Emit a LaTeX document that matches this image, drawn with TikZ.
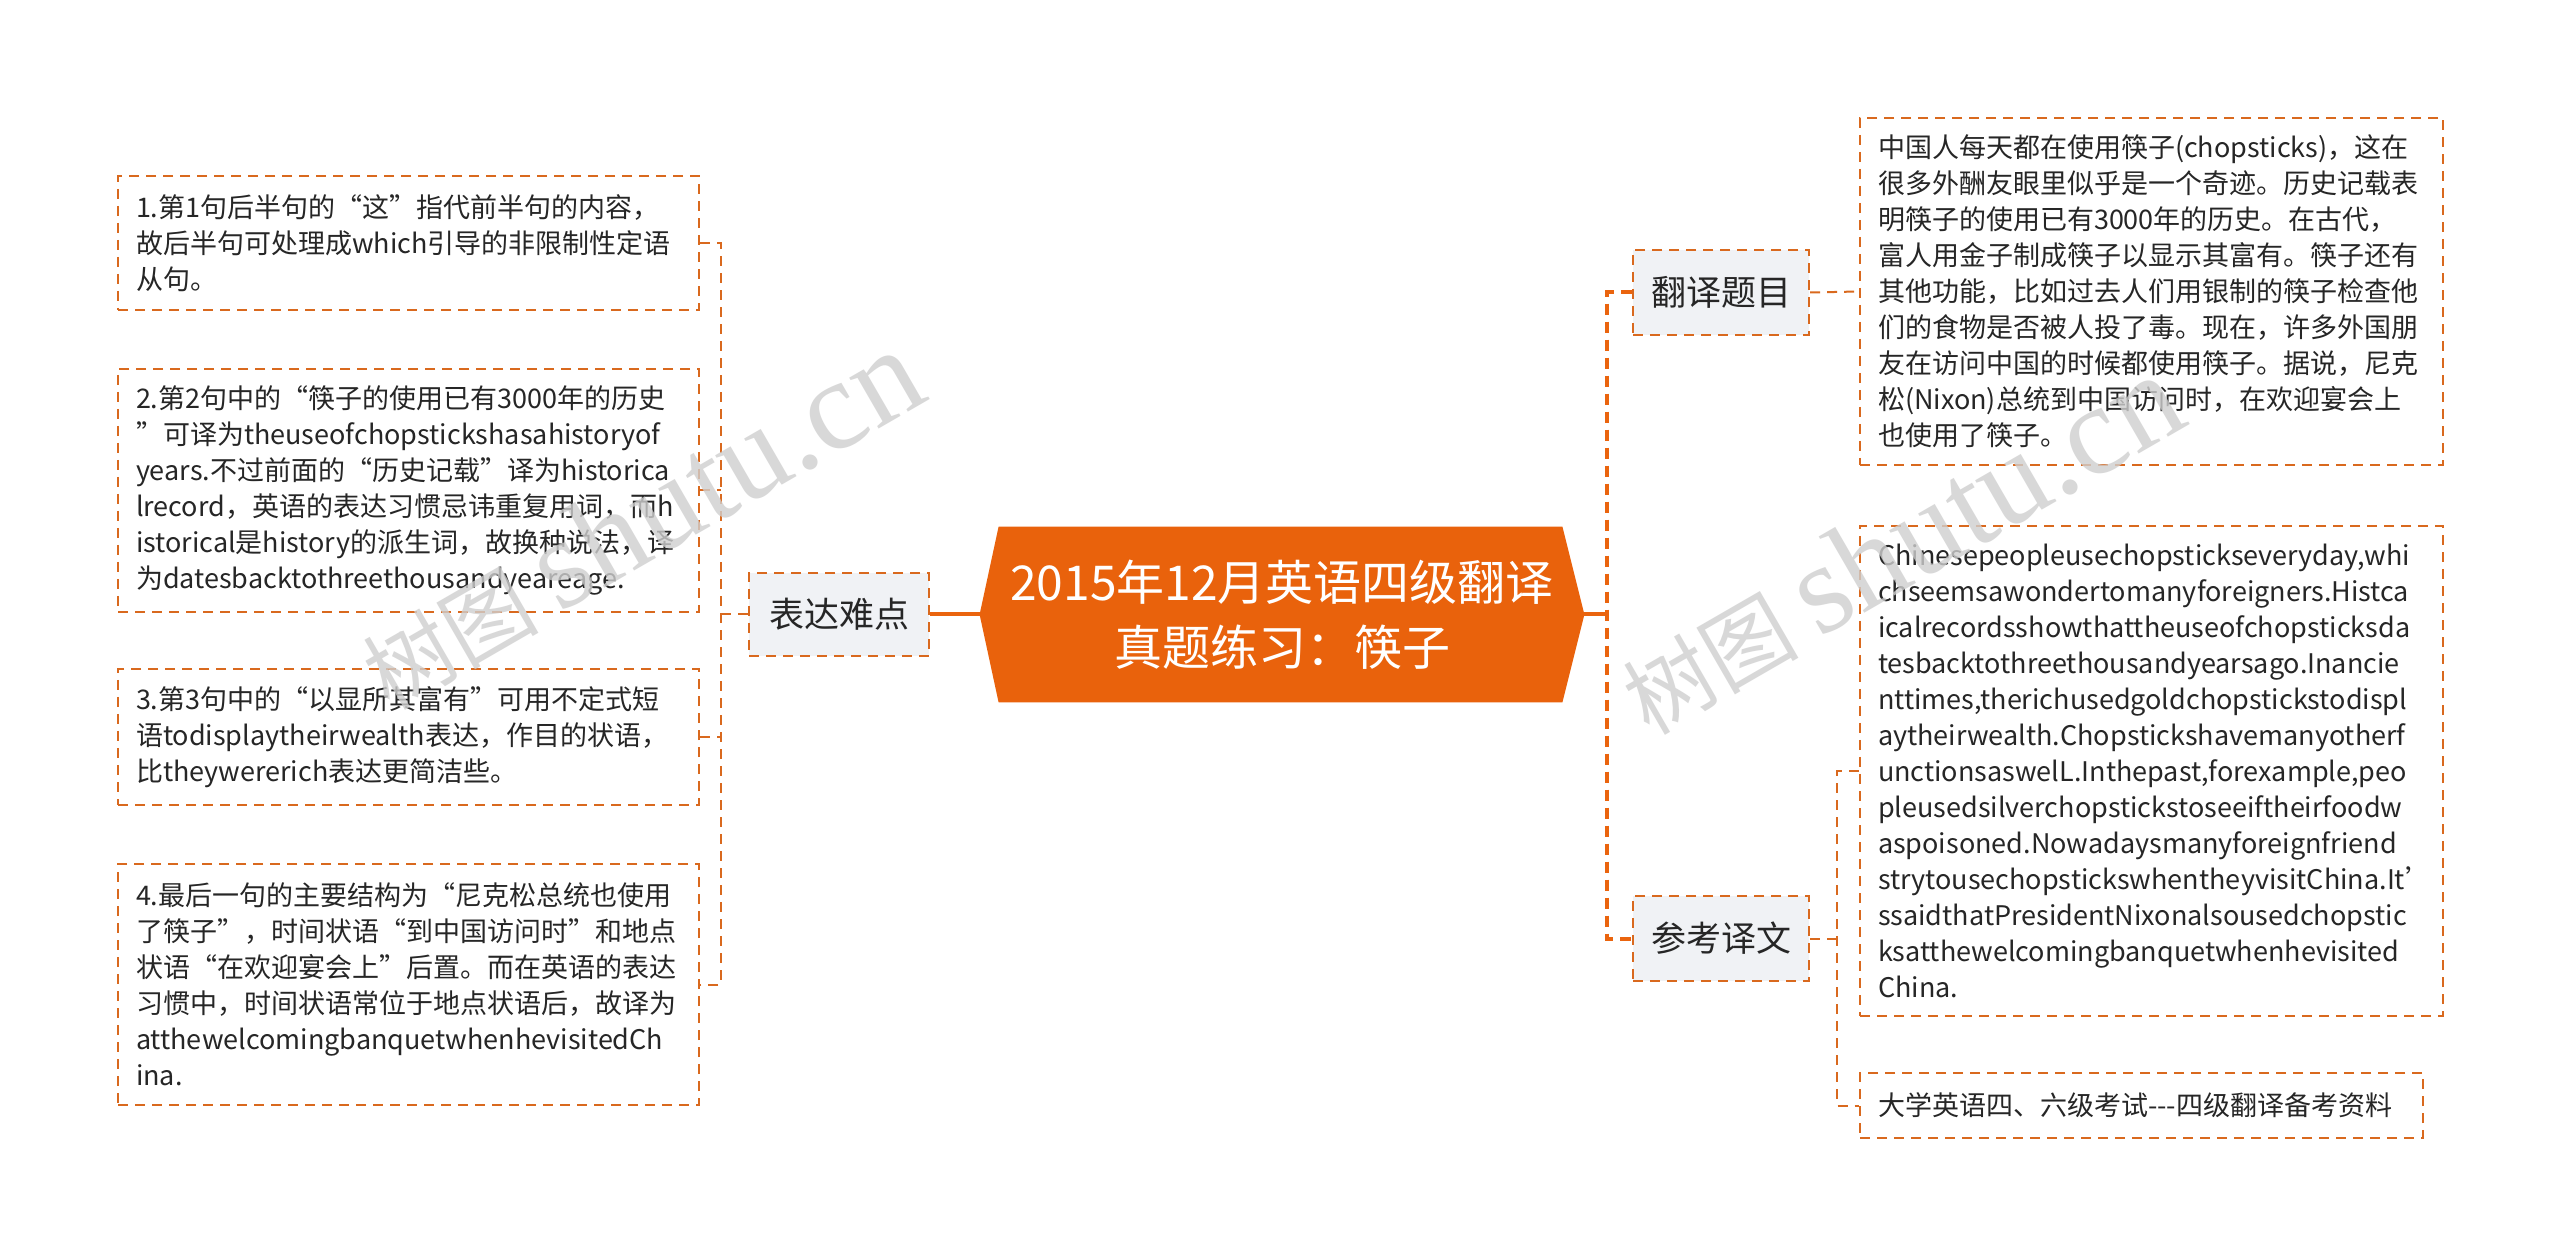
\documentclass[tikz,border=0pt]{standalone}
\usepackage{fontspec}
\setmainfont{Noto Sans CJK SC}
\newfontfamily\wmserif{Liberation Serif}
\usetikzlibrary{backgrounds}
\hyphenpenalty=10000
\exhyphenpenalty=10000
\definecolor{boxor}{HTML}{D9691E}
\definecolor{mainor}{HTML}{EA640E}
\definecolor{rootfill}{HTML}{E9620C}
\definecolor{grayfill}{HTML}{F0F2F5}
\definecolor{txt}{HTML}{262626}
\definecolor{wmgray}{HTML}{CFCFCF}
\tikzset{
 textbox/.style={draw=boxor, line width=1.2pt, dash pattern=on 5pt off 3.5pt, fill=white, text=txt, align=left, inner xsep=9pt, inner ysep=0pt, font=\fontsize{13.5pt}{18pt}\selectfont},
 topic/.style={draw=boxor, line width=1.2pt, dash pattern=on 5pt off 3.5pt, fill=grayfill, text=txt, inner sep=0pt, font=\fontsize{17.5pt}{21pt}\selectfont},
 thinconn/.style={draw=boxor, line width=1pt, dash pattern=on 5pt off 3.5pt},
 thickdash/.style={draw=mainor, line width=2pt, dash pattern=on 5.5pt off 3.5pt},
 thicksolid/.style={draw=mainor, line width=2pt},
 wm/.style={text=wmgray, opacity=0.8, inner sep=0pt}
}
\begin{document}
\begin{tikzpicture}[x=0.5pt,y=-0.5pt]
\begin{scope}[on background layer]
\fill[white] (0,0) rectangle (2560,1256);
\end{scope}
\useasboundingbox (0,0) rectangle (2560,1256);

% left boxes
\node[textbox, text width=272.5pt, minimum height=67pt] (l1) at (408.5,243) {1.第1句后半句的“这”指代前半句的内容，\\故后半句可处理成which引导的非限制性定语\\从句。};
\node[textbox, text width=272.5pt, minimum height=121.5pt] (l2) at (408.5,490.5) {2.第2句中的“筷子的使用已有3000年的历史\\”可译为theuseofchopstickshasahistoryof\\years.不过前面的“历史记载”译为historica\\lrecord，英语的表达习惯忌讳重复用词，而h\\istorical是history的派生词，故换种说法，译\\为datesbacktothreethousandyeareage.};
\node[textbox, text width=272.5pt, minimum height=68pt] (l3) at (408.5,737) {3.第3句中的“以显所其富有”可用不定式短\\语todisplaytheirwealth表达，作目的状语，\\比theywererich表达更简洁些。};
\node[textbox, text width=272.5pt, minimum height=120.5pt] (l4) at (408.5,984.5) {4.最后一句的主要结构为“尼克松总统也使用\\了筷子”，时间状语“到中国访问时”和地点\\状语“在欢迎宴会上”后置。而在英语的表达\\习惯中，时间状语常位于地点状语后，故译为\\atthewelcomingbanquetwhenhevisitedCh\\ina.};

\node[topic, minimum width=90pt, minimum height=41.5pt] (bd) at (839,614.5) {表达难点};

% root
\node[text=white, align=center, font=\fontsize{24pt}{32.5pt}\selectfont, minimum width=302pt, minimum height=87.5pt, inner sep=0pt] (root) at (1282,614.5) {2015年12月英语四级翻译\\真题练习：筷子};
\begin{scope}[on background layer]
\fill[rootfill] (root.west) -- ([xshift=9.5pt]root.north west) -- ([xshift=-11pt]root.north east) -- (root.east) -- ([xshift=-11pt]root.south east) -- ([xshift=9.5pt]root.south west) -- cycle;
\end{scope}

% right
\node[topic, minimum width=88pt, minimum height=42.5pt] (fy) at (1721,292.5) {翻译题目};
\node[topic, minimum width=88pt, minimum height=42.5pt] (ck) at (1721,938.5) {参考译文};

\node[textbox, text width=273.5pt, minimum height=173.5pt] (r1) at (2151.5,291.5) {中国人每天都在使用筷子(chopsticks)，这在\\很多外酬友眼里似乎是一个奇迹。历史记载表\\明筷子的使用已有3000年的历史。在古代，\\富人用金子制成筷子以显示其富有。筷子还有\\其他功能，比如过去人们用银制的筷子检查他\\们的食物是否被人投了毒。现在，许多外国朋\\友在访问中国的时候都使用筷子。据说，尼克\\松(Nixon)总统到中国访问时，在欢迎宴会上\\也使用了筷子。};
\node[textbox, text width=273.5pt, minimum height=245pt] (r2) at (2151.5,771) {Chinesepeopleusechopstickseveryday,whi\\chseemsawondertomanyforeigners.Histca\\icalrecordsshowthattheuseofchopsticksda\\tesbacktothreethousandyearsago.Inancie\\nttimes,therichusedgoldchopstickstodispl\\aytheirwealth.Chopstickshavemanyotherf\\unctionsaswelL.Inthepast,forexample,peo\\pleusedsilverchopstickstoseeiftheirfoodw\\aspoisoned.Nowadaysmanyforeignfriend\\strytousechopstickswhentheyvisitChina.It'\\ssaidthatPresidentNixonalsousedchopstic\\ksatthewelcomingbanquetwhenhevisited\\China.};
\node[textbox, text width=263.5pt, minimum height=32.5pt] (r3) at (2141.5,1105.5) {大学英语四、六级考试\mbox{-}\mbox{-}\mbox{-}四级翻译备考资料};

% junctions
\coordinate (lj) at (721,614.5);
\coordinate (rj) at (1607,614.5);
\coordinate (cj) at (1837,938.5);

% connectors
\draw[thinconn] (l1.east) -| (lj) |- (l4.east);
\draw[thinconn] (l2.east) -- (l2.east -| lj);
\draw[thinconn] (l3.east) -- (l3.east -| lj);
\draw[thinconn] (lj) -- (bd.west);
\draw[thicksolid] (bd.east) -- (root.west);
\draw[thicksolid] (root.east) -- (rj);
\draw[thickdash] (fy.west) -| (rj) |- (ck.west);
\draw[thinconn] (fy.east) -- (r1.west);
\draw[thinconn] (r2.west) -| (cj) |- (r3.west);
\draw[thinconn] (ck.east) -- (cj);

% watermarks
\node[wm, rotate=30] (wm1) at (640,520) {\fontsize{44pt}{48pt}\selectfont 树图\hspace{10pt}{\wmserif\fontsize{64pt}{68pt}\selectfont shutu.cn}};
\node[wm, rotate=30] (wm2) at (1900,545) {\fontsize{44pt}{48pt}\selectfont 树图\hspace{10pt}{\wmserif\fontsize{64pt}{68pt}\selectfont shutu.cn}};
\end{tikzpicture}
\end{document}
